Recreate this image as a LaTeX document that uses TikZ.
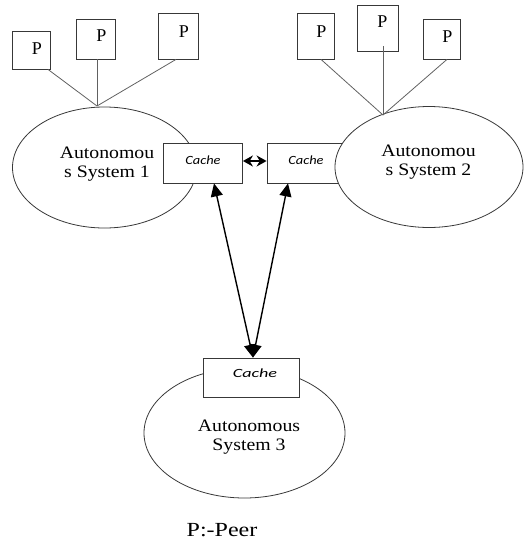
\documentclass[tikz,border=0pt]{standalone}
\usepackage{fontspec}
\setmainfont{Liberation Serif}
\newfontfamily\cachefont{Carlito}
\usetikzlibrary{arrows.meta,shapes.geometric,calc}
\newcommand{\sxw}[1]{\scalebox{1.13}[1]{#1}}
\begin{document}
\begin{tikzpicture}[x=1pt,y=-1pt,
  shp/.style={draw=black!78, line width=0.8pt, fill=white, inner sep=0pt},
  pbox/.style={shp, rectangle},
  cachebox/.style={shp, rectangle},
  asys/.style={shp, ellipse},
  ptext/.style={inner sep=0pt, font=\fontsize{18}{20}\selectfont},
  astext/.style={inner sep=0pt, align=center, font=\fontsize{17.5}{18.5}\selectfont},
  ctext/.style={inner sep=0pt, font=\cachefont\itshape\fontsize{12.5}{14}\selectfont},
  plink/.style={draw=black!62, line width=0.8pt},
  biarrow/.style={draw=black, line width=1.4pt, {Triangle[length=13pt,width=12pt]}-{Triangle[length=13pt,width=12pt]}},
  smallarrow/.style={draw=black, line width=1.6pt, {Stealth[length=10pt,width=11pt]}-{Stealth[length=10pt,width=11pt]}}
]
\useasboundingbox (0,0) rectangle (525,542);

% autonomous systems and caches (layer order matters)
\node[asys, minimum width=184pt, minimum height=121pt] (e1) at (104.5,167.5) {};
\node[cachebox, minimum width=79pt, minimum height=40pt] (c1) at (203,163) {};
\node[cachebox, minimum width=80pt, minimum height=40pt] (c2) at (307,163) {};
\node[asys, minimum width=188pt, minimum height=121pt] (e2) at (429,167) {};
\node[asys, minimum width=201pt, minimum height=130pt] (e3) at (244.5,433) {};
\node[cachebox, minimum width=96pt, minimum height=39pt] (c3) at (251,377.5) {};

% cache labels
\node[ctext] (c1t) at (203,160) {\scalebox{1.15}[1]{Cache}};
\node[ctext] (c2t) at (306,160) {\scalebox{1.15}[1]{Cache}};
\node[ctext] (c3t) at (255,373) {\scalebox{1.45}[1]{Cache}};

% system labels
\node[astext] (t1) at (107,164) {\sxw{Autonomou}\\\sxw{s System 1}};
\node[astext] (t2) at (428.5,162) {\sxw{Autonomou}\\\sxw{s System 2}};
\node[astext] (t3) at (249,437) {\sxw{Autonomous}\\\sxw{System 3}};

% peers
\node[pbox, minimum width=38pt, minimum height=38pt] (p1) at (31,50) {};
\node[pbox, minimum width=39pt, minimum height=40pt] (p2) at (95.5,39) {};
\node[pbox, minimum width=40pt, minimum height=46pt] (p3) at (178,36) {};
\node[pbox, minimum width=37pt, minimum height=46pt] (p4) at (315.5,36) {};
\node[pbox, minimum width=41pt, minimum height=46pt] (p5) at (377.5,28) {};
\node[pbox, minimum width=37pt, minimum height=40pt] (p6) at (441.5,39) {};

\node[ptext] (p1t) at ($(p1.center)+(6,-1)$) {P};
\node[ptext] (p2t) at ($(p2.center)+(6,-3)$) {P};
\node[ptext] (p3t) at ($(p3.center)+(6,-4)$) {P};
\node[ptext] (p4t) at ($(p4.center)+(6,-4)$) {P};
\node[ptext] (p5t) at ($(p5.center)+(5,-6)$) {P};
\node[ptext] (p6t) at ($(p6.center)+(6,-2)$) {P};

% peer links
\coordinate (j1) at (97,106);
\coordinate (j2) at (383,115);
\draw[plink] ($(p1.south)+(17,0)$) -- (j1);
\draw[plink] ($(p2.south)+(1.5,0)$) -- (j1);
\draw[plink] ($(p3.south)+(-2,0)$) -- (j1);
\draw[plink] ($(p4.south)+(5.5,0)$) -- (j2);
\draw[plink] ($(p5.south)+(5.5,-5)$) -- (j2);
\draw[plink] ($(p6.south)+(5.5,0)$) -- (j2);

% cache links
\draw[smallarrow] ($(c1.east)+(0,-2)$) -- ($(c2.west)+(0,-2)$);
\draw[biarrow] ($(c1.south)+(11,0)$) -- ($(c3.north)+(2,0)$);
\draw[biarrow] ($(c2.south)+(-19,0)$) -- ($(c3.north)+(2,0)$);

% legend
\node[inner sep=0pt, font=\fontsize{20}{22}\selectfont] (legend) at (222,530) {\scalebox{1.2}[1]{P:-Peer}};
\end{tikzpicture}
\end{document}
